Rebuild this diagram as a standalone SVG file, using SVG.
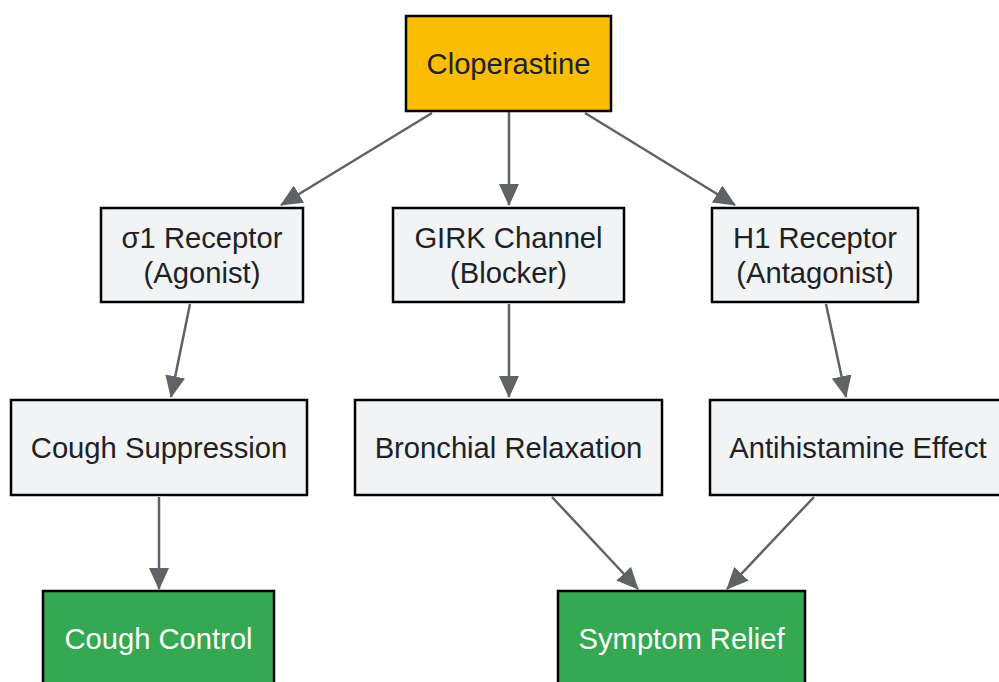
<svg xmlns="http://www.w3.org/2000/svg" width="999" height="682" viewBox="0 0 999 682">
<defs>
<marker id="ah" viewBox="0 0 22 20" refX="21" refY="10" markerWidth="22" markerHeight="20" markerUnits="userSpaceOnUse" orient="auto">
<path d="M0,0 L22,10 L0,20 Z" fill="#5f6368"/>
</marker>
<style>
.box{stroke:#000;stroke-width:2.5}
.g{fill:#f1f3f4}
.y{fill:#fbbc04}
.gr{fill:#34a853}
text{font-family:"Liberation Sans",Arial,sans-serif;font-size:29.2px;fill:#202124;text-anchor:middle}
.w{fill:#fff}
.e{stroke:#5f6368;stroke-width:2.5;fill:none}
</style>
</defs>
<rect width="999" height="682" fill="#fff"/>
<g id="edges">
<path class="e" d="M432,113 L281,205" marker-end="url(#ah)"/>
<path class="e" d="M509,112 L509,205" marker-end="url(#ah)"/>
<path class="e" d="M585,113 L735,205" marker-end="url(#ah)"/>
<path class="e" d="M190,304 L171,397" marker-end="url(#ah)"/>
<path class="e" d="M509,304 L509,397" marker-end="url(#ah)"/>
<path class="e" d="M826,304 L846,397" marker-end="url(#ah)"/>
<path class="e" d="M159,497 L159,589" marker-end="url(#ah)"/>
<path class="e" d="M552,497 L638,589" marker-end="url(#ah)"/>
<path class="e" d="M814,497 L727,589" marker-end="url(#ah)"/>
</g>
<g id="cloperastine"><rect class="box y" x="406" y="16" width="205" height="95"/><text x="508.5" y="74">Cloperastine</text></g>
<g id="sigma1"><rect class="box g" x="101" y="208" width="202" height="94"/><text x="202" y="248">σ1 Receptor</text><text x="202" y="283">(Agonist)</text></g>
<g id="girk"><rect class="box g" x="393" y="208" width="231" height="94"/><text x="508.5" y="248">GIRK Channel</text><text x="508.5" y="283">(Blocker)</text></g>
<g id="h1"><rect class="box g" x="712" y="208" width="206" height="94"/><text x="815" y="248">H1 Receptor</text><text x="815" y="283">(Antagonist)</text></g>
<g id="cough_supp"><rect class="box g" x="11" y="400" width="296" height="95"/><text x="159" y="458">Cough Suppression</text></g>
<g id="bronchial"><rect class="box g" x="355" y="400" width="307" height="95"/><text x="508.5" y="458">Bronchial Relaxation</text></g>
<g id="antihist"><rect class="box g" x="710" y="400" width="292" height="95"/><text x="858" y="458">Antihistamine Effect</text></g>
<g id="cough_control"><rect class="box gr" x="43" y="591" width="231" height="95"/><text class="w" x="158.5" y="649">Cough Control</text></g>
<g id="symptom_relief"><rect class="box gr" x="558" y="591" width="247" height="95"/><text class="w" x="681.5" y="649">Symptom Relief</text></g>
</svg>
